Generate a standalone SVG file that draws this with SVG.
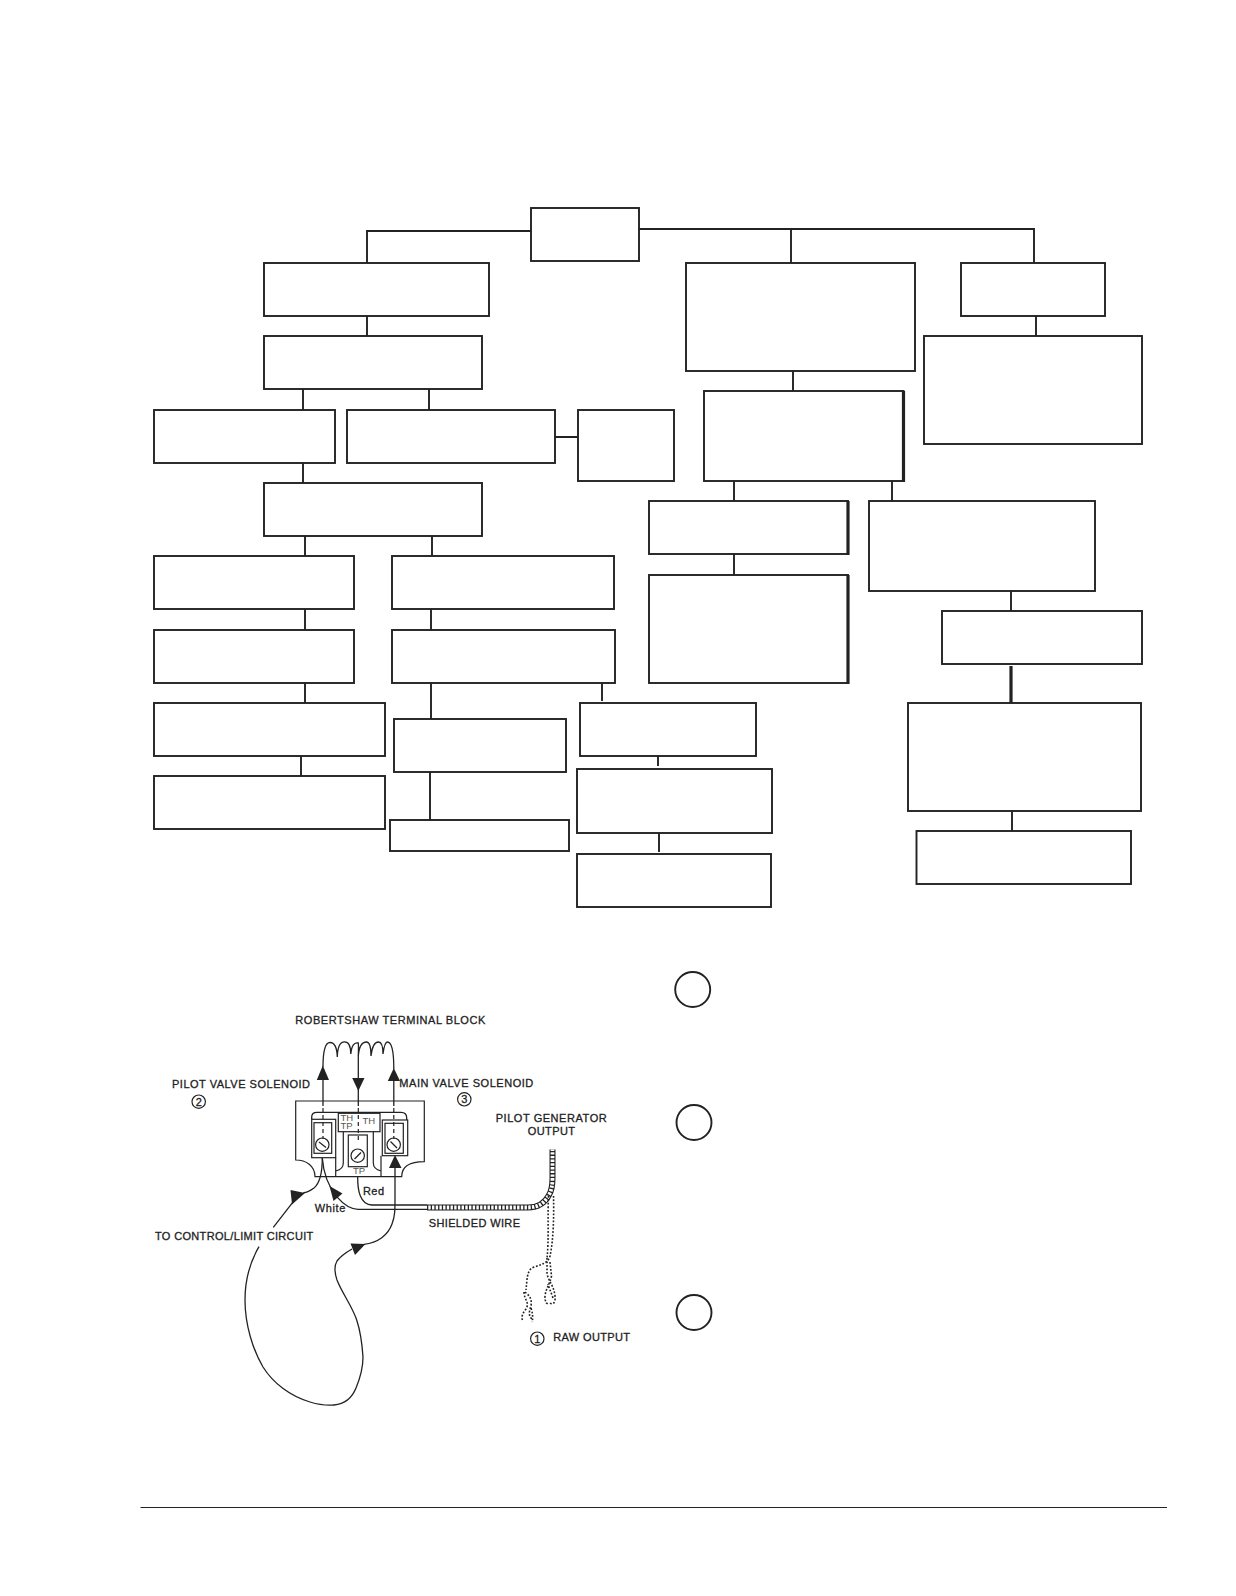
<svg xmlns="http://www.w3.org/2000/svg" width="1236" height="1596" viewBox="0 0 1236 1596">
<defs>
<style>
.b{fill:#fff;stroke:#222;stroke-width:1.9}
.t{fill:none;stroke:#222;stroke-width:3.2}
.c{fill:none;stroke:#222;stroke-width:1.9}
.w{fill:none;stroke:#222;stroke-width:1.3}
.d{fill:none;stroke:#222;stroke-width:1.2;stroke-dasharray:4 3}
.p{fill:none;stroke:#222;stroke-width:1.6;stroke-dasharray:1.800 1.700}
.a{fill:#222;stroke:none}
text{font-family:"Liberation Sans",Arial,sans-serif;font-size:11px;fill:#222;stroke:#222;stroke-width:.3}
.s{font-size:9.5px;fill:#555;stroke:none}
.o{fill:none;stroke:#222;stroke-width:1.9}
.k{fill:none;stroke:#222;stroke-width:1.2}
</style>
</defs>
<rect width="1236" height="1596" fill="#fff"/>
<g id="connectors">
<path class="c" d="M531 231H367V263M367 316V336M303 389V410M429 389V410M303 461V483M555 437H578M305 536V556M432 536V556M305 609V630M431 609V630M305 681V703M431 681V719M602 681V701M301 756V776M430 772V820"/>
<path class="c" d="M639 229H1034V263M791 229V263M793 371V391M1036 316V336M734 481V501M892 481V501M734 554V575M1011 591V611M1012 811V831M658 756V766M659 833V852"/>
<path class="t" d="M1011 666V703"/>
</g>
<g id="n1"><rect class="b" x="531" y="208" width="108" height="53"/></g>
<g id="n2"><rect class="b" x="264" y="263" width="225" height="53"/></g>
<g id="n3"><rect class="b" x="264" y="336" width="218" height="53"/></g>
<g id="n4"><rect class="b" x="154" y="410" width="181" height="53"/></g>
<g id="n5"><rect class="b" x="347" y="410" width="208" height="53"/></g>
<g id="n6"><rect class="b" x="578" y="410" width="96" height="71"/></g>
<g id="n7"><rect class="b" x="264" y="483" width="218" height="53"/></g>
<g id="n8"><rect class="b" x="154" y="556" width="200" height="53"/></g>
<g id="n9"><rect class="b" x="392" y="556" width="222" height="53"/></g>
<g id="n10"><rect class="b" x="154" y="630" width="200" height="53"/></g>
<g id="n11"><rect class="b" x="392" y="630" width="223" height="53"/></g>
<g id="n12"><rect class="b" x="154" y="703" width="231" height="53"/></g>
<g id="n13"><rect class="b" x="154" y="776" width="231" height="53"/></g>
<g id="n14"><rect class="b" x="394" y="719" width="172" height="53"/></g>
<g id="n15"><rect class="b" x="390" y="820" width="179" height="31"/></g>
<g id="n16"><rect class="b" x="580" y="703" width="176" height="53"/></g>
<g id="n17"><rect class="b" x="577" y="769" width="195" height="64"/></g>
<g id="n18"><rect class="b" x="577" y="854" width="194" height="53"/></g>
<g id="n19"><rect class="b" x="686" y="263" width="229" height="108"/></g>
<g id="n20"><rect class="b" x="961" y="263" width="144" height="53"/></g>
<g id="n21"><rect class="b" x="924" y="336" width="218" height="108"/></g>
<g id="n22"><rect class="b" x="704" y="391" width="199.500" height="90"/><path class="t" d="M903.500 391V482"/></g>
<g id="n23"><rect class="b" x="649" y="501" width="199" height="53"/><path class="t" d="M848 501V555"/></g>
<g id="n24"><rect class="b" x="649" y="575" width="199" height="108"/><path class="t" d="M848 575V684"/></g>
<g id="n25"><rect class="b" x="869" y="501" width="226" height="90"/></g>
<g id="n26"><rect class="b" x="942" y="611" width="200" height="53"/></g>
<g id="n27"><rect class="b" x="908" y="703" width="233" height="108"/></g>
<g id="n28"><rect class="b" x="916.500" y="831" width="214.500" height="53"/></g>
<g id="c1"><circle class="o" cx="692.700" cy="989.500" r="17.500"/></g>
<g id="c2"><circle class="o" cx="694" cy="1122.500" r="17.500"/></g>
<g id="c3"><circle class="o" cx="694" cy="1312.500" r="17.500"/></g>
<path d="M140.500 1507.500H1167" fill="none" stroke="#222" stroke-width="1.2"/>
<g id="wiring">
<path class="k" d="M295.700 1101H424.300V1161.700C411 1161.700 401.700 1166 401.700 1176.700H315C315 1166 306 1160 295.700 1160Z"/>
<path class="w" d="M311.700 1119V1117C311.700 1114 314 1112.300 317 1112.300H401C404.500 1112.300 406.700 1114 406.700 1118V1120"/>
<rect class="k" x="311.700" y="1119.300" width="24" height="38.400"/>
<rect class="k" x="314" y="1122.700" width="17.700" height="30.600"/>
<rect class="k" x="382.300" y="1120" width="25.400" height="35.700"/>
<rect class="k" x="385" y="1123.300" width="18.300" height="30"/>
<rect class="k" x="338.300" y="1113.300" width="41.700" height="18.400"/>
<rect class="k" x="348.300" y="1135" width="19" height="31.700"/>
<path class="k" d="M335.700 1157.700V1176.700M343.300 1131.700V1163C343.300 1168 340 1170 336 1171M373.300 1131.700V1163C373.300 1168 377 1170 381 1171M381 1155.700V1176.700"/>
<circle class="k" cx="322.300" cy="1144.700" r="6.700"/><path class="k" d="M319 1142L326 1147.500"/>
<circle class="k" cx="393.700" cy="1144.700" r="6.700"/><path class="k" d="M390.500 1141.500L397 1148"/>
<circle class="k" cx="357.700" cy="1155.700" r="6.700"/><path class="k" d="M354.500 1159L361 1152.500"/>
<path class="w" d="M323 1079V1106M358.300 1056V1106M393.800 1080V1106"/>
<path class="d" d="M323 1108V1139M358.300 1108V1140M393.800 1108V1139"/>
<path class="w" d="M323 1067C323 1050 325.500 1042.500 330 1042.500C334.500 1042.500 337 1048 337.300 1057C337.500 1048 340 1041.800 344.500 1041.800C349 1041.800 350.800 1046 350.800 1054C351.500 1046 354 1041.800 358.300 1043C358.800 1048 358.300 1052 358.300 1056C359 1047 362 1042 366.500 1042C370 1042 371 1048 371 1056C372 1047 374.500 1042 378.500 1042C382 1042 383 1047 383 1054C384 1046 385 1042 387.500 1042C391.500 1042 393.800 1050 393.800 1069"/>
<polygon class="a" points="322.800,1065.500 316.800,1080 329,1080"/>
<polygon class="a" points="358.300,1091 352.200,1078 364.500,1078"/>
<polygon class="a" points="393.800,1068 387.800,1081 400,1081"/>
<path class="w" d="M322.300 1158C322.300 1172 320 1183 314 1188C310 1191 306 1192.500 303.300 1192.700"/>
<polygon class="a" points="290.500,1190 305,1193 292,1204.500"/>
<path class="w" d="M293.300 1201.700L273.300 1227.300M259 1246.700C250 1262 245 1280 245 1300C245 1325 253 1350 263 1367C273 1383 290 1396 310 1402C320 1405 328 1405.500 334 1405C345 1404 352 1398 356 1388C361 1376 363 1367 363 1357C362 1342 360 1330 356.700 1320C352 1306 342 1293 337 1280C334 1271 334 1266 337 1261C340 1257 345 1253 352 1249"/>
<polygon class="a" points="350.500,1243.500 365.500,1244 355,1255"/>
<path class="w" d="M364 1244.300C378 1243 388 1235 392 1224C395 1216 395 1210 395 1200V1166"/>
<polygon class="a" points="395,1155 389,1168 401.500,1168"/>
<path class="w" d="M322.300 1158C323.500 1174 328 1186 336.700 1196.700C343 1204 350 1209.300 358 1209.300H427"/>
<polygon class="a" points="329.500,1186 342.500,1193.500 333.500,1201"/>
<path class="w" d="M357.700 1176.700C357.500 1190 360 1205 372 1205H427"/>
<path d="M427 1207.500H528C538 1207.500 545 1203 549 1195C552 1190 552.500 1185 552.500 1178V1149.500" fill="none" stroke="#222" stroke-width="6"/>
<path d="M427 1207.500H528C538 1207.500 545 1203 549 1195C552 1190 552.500 1185 552.500 1178V1149.500" fill="none" stroke="#fff" stroke-width="3.800"/>
<path d="M427 1207.500H528C538 1207.500 545 1203 549 1195C552 1190 552.500 1185 552.500 1178V1149.500" fill="none" stroke="#222" stroke-width="5" stroke-dasharray="1.300 2.400"/>
<path class="p" d="M548.500 1196C547.500 1215 549 1240 547 1258M553.500 1196C554 1215 553.500 1240 550 1256C548 1264 540 1264.500 532 1268C527 1271 527 1280 526 1290"/>
<path class="p" d="M547 1258V1274C549 1282 554 1286 555 1296C556 1305 551 1305 549 1302M550 1262L551.500 1276C550 1284 546 1288 545 1296C545 1303 547 1305 549 1302M553 1298C551 1292 549 1288 548 1284"/>
<path class="p" d="M525 1292C530 1296 532 1299 531 1306C529 1312 528 1316 533 1320M524 1292C524 1300 530 1302 526 1309C522 1314 521 1318 523 1321M531 1308C533 1314 533 1318 532 1322"/>
</g>
<g id="labels">
<text x="295.300" y="1024.300" textLength="190" lengthAdjust="spacing">ROBERTSHAW TERMINAL BLOCK</text>
<text x="172" y="1088.300" textLength="138" lengthAdjust="spacing">PILOT VALVE SOLENOID</text>
<text x="399.300" y="1086.700" textLength="134" lengthAdjust="spacing">MAIN VALVE SOLENOID</text>
<text x="495.700" y="1122" textLength="111" lengthAdjust="spacing">PILOT GENERATOR</text>
<text x="527.700" y="1135.300" textLength="47.300" lengthAdjust="spacing">OUTPUT</text>
<text x="363" y="1194.700" textLength="21" lengthAdjust="spacing">Red</text>
<text x="314.700" y="1211.700" textLength="30.600" lengthAdjust="spacing">White</text>
<text x="428.700" y="1226.700" textLength="91.300" lengthAdjust="spacing">SHIELDED WIRE</text>
<text x="155" y="1240" textLength="158.300" lengthAdjust="spacing">TO CONTROL/LIMIT CIRCUIT</text>
<text x="553.300" y="1341" textLength="76.700" lengthAdjust="spacing">RAW OUTPUT</text>
<text class="s" x="340.500" y="1120.700">TH</text>
<text class="s" x="340.500" y="1128.900">TP</text>
<text class="s" x="362.500" y="1123.500">TH</text>
<text class="s" x="353" y="1174">TP</text>
<circle class="k" cx="198.700" cy="1101.700" r="6.700"/><text x="198.700" y="1105.500" text-anchor="middle">2</text>
<circle class="k" cx="464.300" cy="1099.300" r="6.700"/><text x="464.300" y="1103.100" text-anchor="middle">3</text>
<circle class="k" cx="537.300" cy="1338.700" r="6.700"/><text x="537.300" y="1342.500" text-anchor="middle">1</text>
</g>
</svg>
